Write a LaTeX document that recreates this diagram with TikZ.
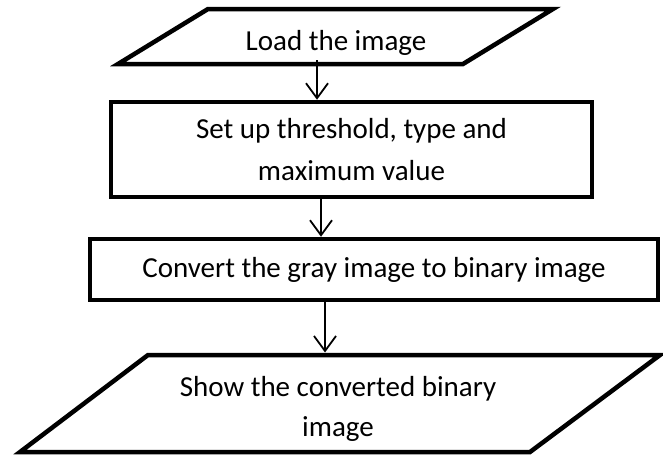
\documentclass[tikz,border=0pt]{standalone}
\usepackage{fontspec}
\setmainfont{Carlito}
\usetikzlibrary{arrows.meta}
\begin{document}
\begin{tikzpicture}[x=1pt,y=-1pt,
  shapeline/.style={draw=black,line width=4.5pt,line join=miter},
  boxnode/.style={shapeline,rectangle,inner sep=0pt,align=center},
  txt/.style={inner sep=0pt,align=center},
  arr/.style={draw=black,line width=1.8pt,-{Straight Barb[length=15pt,width=22pt,line width=1.8pt]}},
  font=\fontsize{29}{42}\selectfont]
\useasboundingbox (0,0) rectangle (663,455);
% top parallelogram
\draw[shapeline] (208,9) -- (553,9) -- (463,64) -- (118,64) -- cycle;
\node[txt,anchor=base] (t1) at (336,50) {Load the image};
% rectangle 2
\node[boxnode,minimum width=481pt,minimum height=95pt] (r2) at (351.5,149.5)
  {Set up threshold, type and\\maximum value};
% rectangle 3
\node[boxnode,minimum width=568pt,minimum height=61pt] (r3) at (374,269.5)
  {Convert the gray image to binary image};
% bottom parallelogram
\draw[shapeline] (148,355) -- (660,355) -- (530,452) -- (20,452) -- cycle;
\node[txt,font=\fontsize{29}{40}\selectfont] (t4) at (338,409)
  {Show the converted binary\\image};
% arrows
\coordinate (a1) at (317,60);
\coordinate (a2) at (321,200);
\coordinate (a3) at (325,352.5);
\draw[arr] (a1) -- (a1 |- r2.north);
\draw[arr] (r2.south -| a2) -- (r3.north -| a2);
\draw[arr] (r3.south -| a3) -- (a3);
\end{tikzpicture}
\end{document}
